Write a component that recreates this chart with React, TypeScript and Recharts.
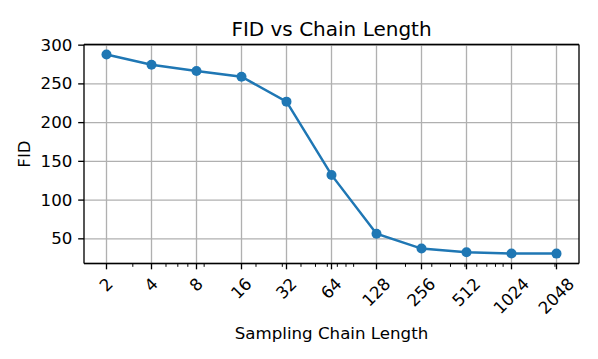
import React from 'react';
import { LineChart, Line, XAxis, YAxis, CartesianGrid, ReferenceLine } from 'recharts';

const chainLengths = [2, 4, 8, 16, 32, 64, 128, 256, 512, 1024, 2048];
const fidValues = [288.0, 274.7, 266.6, 259.3, 227.1, 132.5, 56.6, 37.4, 32.6, 31.0, 30.9];
const yTicks = [50, 100, 150, 200, 250, 300];
const minorTicks = [3, 5, 6, 7, 9, 20, 30, 40, 50, 60, 70, 80, 90, 200, 300, 400, 500, 600, 700, 800, 900, 2000];

const data = chainLengths.map((n, i) => ({ n, fid: fidValues[i] }));
const allXTicks = [...chainLengths, ...minorTicks].sort((a, b) => a - b);
const majorSet = new Set(chainLengths);

const FONT = 'DejaVu Sans';
const FS = 16.67;
const BLUE = '#1f77b4';
const GRID = '#b0b0b0';
const xDomain = [Math.SQRT2, 2048 * Math.SQRT2];
const yDomain = [18.15, 300.85];

const XTick = (props: any) => {
  const { x, y, payload } = props;
  const v = payload.value;
  if (!majorSet.has(v)) {
    return <line x1={x} x2={x} y1={y} y2={y + 3.33} stroke="#000" strokeWidth={1} />;
  }
  const s = String(v);
  const top = y + 5.83 + 5.83;
  const cy = top + (s.length * 10.6 + 17) * 0.3536;
  return (
    <g>
      <line x1={x} x2={x} y1={y} y2={y + 5.83} stroke="#000" strokeWidth={1.33} />
      <text
        x={x}
        y={cy}
        transform={`rotate(-45 ${x} ${cy})`}
        textAnchor="middle"
        dominantBaseline="central"
        style={{ fontSize: FS, fontFamily: FONT, fill: '#000' }}
      >
        {s}
      </text>
    </g>
  );
};

const YTick = (props: any) => {
  const { x, y, payload } = props;
  return (
    <text
      x={x}
      y={y}
      textAnchor="end"
      dominantBaseline="central"
      style={{ fontSize: FS, fontFamily: FONT, fill: '#000' }}
    >
      {payload.value}
    </text>
  );
};

export default function App() {
  return (
    <div style={{ width: 598, height: 359, background: '#fff' }}>
      <style>{'body{margin:0}'}</style>
      <LineChart
        width={598}
        height={359}
        data={data}
        margin={{ top: 44.5, right: 19, bottom: 0, left: 0 }}
      >
        <CartesianGrid stroke={GRID} strokeWidth={1.33} vertical={false} />
        {chainLengths.map((n) => (
          <ReferenceLine key={n} x={n} stroke={GRID} strokeWidth={1.33} />
        ))}
        <XAxis
          dataKey="n"
          type="number"
          scale="log"
          domain={xDomain}
          allowDataOverflow
          ticks={allXTicks}
          interval={0}
          tick={<XTick />}
          tickSize={0}
          tickMargin={0}
          tickLine={false}
          axisLine={{ stroke: '#000', strokeWidth: 1.33 }}
          height={95.5}
        />
        <YAxis
          type="number"
          domain={yDomain}
          allowDataOverflow
          ticks={yTicks}
          interval={0}
          width={84}
          tickSize={5.83}
          tickMargin={5.83}
          tick={<YTick />}
          tickLine={{ stroke: '#000', strokeWidth: 1.33 }}
          axisLine={{ stroke: '#000', strokeWidth: 1.33 }}
        />
        <Line
          dataKey="fid"
          stroke={BLUE}
          strokeWidth={2.5}
          dot={{ r: 5, fill: BLUE, stroke: BLUE, strokeWidth: 0 }}
          activeDot={false}
          isAnimationActive={false}
        />
        <ReferenceLine y={yDomain[1]} stroke="#000" strokeWidth={1.33} />
        <ReferenceLine x={xDomain[1]} stroke="#000" strokeWidth={1.33} />
        <text
          x={331.5}
          y={36}
          textAnchor="middle"
          style={{ fontSize: 20, fontFamily: FONT, fill: '#000' }}
        >
          FID vs Chain Length
        </text>
        <text
          x={331.5}
          y={338.5}
          textAnchor="middle"
          style={{ fontSize: FS, fontFamily: FONT, fill: '#000' }}
        >
          Sampling Chain Length
        </text>
        <text
          x={29.5}
          y={154}
          textAnchor="middle"
          transform="rotate(-90 29.5 154)"
          style={{ fontSize: FS, fontFamily: FONT, fill: '#000' }}
        >
          FID
        </text>
      </LineChart>
    </div>
  );
}
